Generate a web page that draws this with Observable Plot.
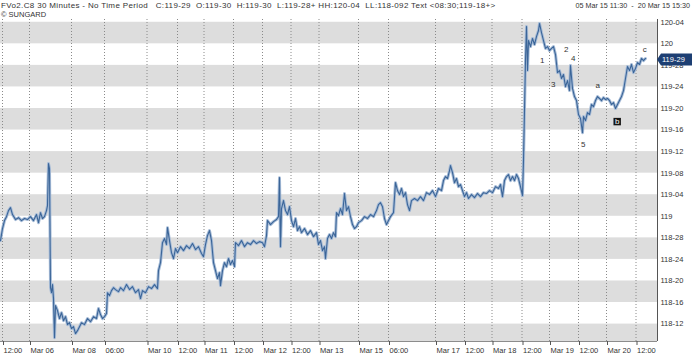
<!DOCTYPE html>
<html><head><meta charset="utf-8">
<script src="https://cdn.jsdelivr.net/npm/d3@7"></script>
<script src="https://cdn.jsdelivr.net/npm/@observablehq/plot@0.6"></script>
<style>
body{margin:0;background:#fff;}
#wrap{position:relative;width:692px;height:356px;font-family:"Liberation Sans",Arial,sans-serif;overflow:hidden;}
.hdr{position:absolute;font-size:7.5px;color:#333;white-space:pre;line-height:1;z-index:2;}
#chart{position:absolute;left:0;top:0;}
</style></head><body>
<div id="wrap">
<div id="chart"></div>
<div class="hdr" style="left:1px;top:2px;font-size:8px;letter-spacing:0.35px">FVo2.C8 30 Minutes - No Time Period   C:119-29  O:119-30  H:119-30  L:119-28+ HH:120-04  LL:118-092 Text &lt;08:30;119-18+&gt;</div>
<div class="hdr" style="right:2px;top:2px;font-size:7.2px">05 Mar 15 11:30  -  20 Mar 15 15:30</div>
<div class="hdr" style="left:1px;top:11px">© SUNGARD</div>
</div>
<script>
// time slot index of each sampled 30-minute bar
const t = [0,2,4,6,8,10,12,15,18,21,24,27,30,33,36,38,40,42,44,46,47,48,49,50,51,52,53,54,55,57,59,61,63,65,67,69,71,73,75,77,79,81,84,87,90,93,96,98,100,102,104,106,107,109,111,113,115,118,120,123,126,129,132,135,138,140,142,145,148,151,154,157,158,160,162,164,166,167,169,171,173,175,177,180,183,186,189,192,195,198,201,203,205,207,209,211,213,215,217,219,220,222,224,226,228,230,232,234,235,238,241,244,247,250,253,256,259,262,264,266,267,270,273,276,278,279,280,281,283,285,287,289,291,293,295,297,299,301,304,307,310,313,316,318,320,322,324,325,327,329,331,333,335,336,338,340,342,344,346,348,350,352,354,356,358,361,364,367,370,373,376,378,380,382,384,386,388,390,393,395,397,399,401,403,405,407,409,411,414,417,420,423,426,429,432,435,438,441,443,445,447,449,450,452,454,456,458,460,462,464,466,468,471,474,477,480,483,486,489,492,495,498,500,502,504,506,508,510,512,514,516,518,520,522,523,524,525,526,527,528,530,532,534,536,538,539,541,543,545,547,549,551,553,555,557,559,561,563,565,567,569,570,572,574,576,578,580,582,583,585,587,589,591,593,595,597,599,601,603,605,607,609,611,613,615,617,619,621,623,625,627,629,631,633,635,637,639,641,643,645];
// price (decimal, 32nds converted)
const price = [118.859,118.929,118.975,118.998,119.033,119.050,119.010,118.981,118.992,118.975,118.987,118.981,118.998,118.975,119.010,118.963,119.021,118.987,118.998,119.033,119.062,119.306,119.277,118.586,118.557,118.604,118.523,118.296,118.482,118.453,118.407,118.441,118.395,118.418,118.372,118.383,118.349,118.360,118.320,118.337,118.360,118.383,118.372,118.407,118.389,118.418,118.407,118.465,118.430,118.407,118.418,118.436,118.557,118.540,118.569,118.586,118.575,118.563,118.586,118.569,118.604,118.575,118.592,118.557,118.575,118.523,118.569,118.557,118.592,118.581,118.604,118.581,118.685,118.731,118.847,118.871,118.836,118.934,118.859,118.789,118.755,118.813,118.789,118.824,118.801,118.830,118.813,118.842,118.807,118.824,118.784,118.766,118.836,118.888,118.917,118.859,118.731,118.685,118.639,118.673,118.598,118.685,118.731,118.708,118.755,118.720,118.743,118.708,118.847,118.830,118.859,118.824,118.847,118.836,118.859,118.842,118.853,118.847,118.824,118.888,118.975,118.952,118.969,118.981,118.998,119.224,118.824,119.045,119.091,119.033,119.010,119.056,118.975,118.940,118.987,118.917,118.940,118.905,118.929,118.894,118.917,118.882,118.905,118.836,118.859,118.801,118.824,118.755,118.871,118.894,118.871,118.905,118.882,119.021,119.004,119.045,119.010,119.132,119.033,119.056,118.998,118.952,118.929,118.940,118.963,118.975,118.998,118.987,119.010,118.998,119.033,119.068,119.079,119.056,118.987,118.952,118.975,118.998,119.021,119.195,119.149,119.126,119.161,119.114,119.137,119.068,119.033,119.091,119.103,119.091,119.114,119.091,119.137,119.126,119.149,119.114,119.161,119.149,119.207,119.230,119.219,119.265,119.294,119.253,119.195,119.219,119.172,119.184,119.149,119.114,119.137,119.103,119.126,119.108,119.132,119.114,119.137,119.132,119.149,119.137,119.172,119.161,119.184,119.114,119.207,119.230,119.242,119.207,119.230,119.207,119.242,119.219,119.172,119.120,119.323,119.613,119.903,120.100,119.845,120.019,119.984,120.031,119.996,120.042,120.077,120.118,120.065,120.019,119.973,119.984,119.961,119.973,119.984,119.938,119.833,119.845,119.799,119.822,119.752,119.787,119.729,119.874,119.741,119.694,119.671,119.590,119.567,119.485,119.578,119.555,119.601,119.590,119.648,119.636,119.671,119.694,119.683,119.671,119.688,119.677,119.683,119.671,119.648,119.659,119.625,119.648,119.671,119.694,119.729,119.799,119.868,119.845,119.880,119.833,119.857,119.891,119.880,119.915,119.903,119.915];

const tDomain = [0, 657];
const yDomain = [118.274, 120.141];
const tickT = [2,29,71,104,146.5,177,203.5,233,262,290.5,318.5,358,388,435,464,491.5,521.5,549,578,606,635.5];
const tickLabels = ["12:00","Mar 06","Mar 08","06:00","Mar 10","12:00","Mar 11","12:00","Mar 12","12:00","Mar 13","Mar 15","06:00","Mar 17","12:00","Mar 18","12:00","Mar 19","12:00","Mar 20","12:00"];
const yTicks = [118.375,118.5,118.625,118.75,118.875,119,119.125,119.25,119.375,119.5,119.625,119.75,119.875,120,120.125];
const bandLow = [118.25,118.5,118.75,119,119.25,119.5,119.75,120];
const waveLabels = ["1","2","3","4","5","a","b","c"];
const waveT = [541.7,565.7,552.7,572.7,582.7,597.3,616.7,644.3];
const waveP = [119.903,119.965,119.764,119.913,119.416,119.756,119.549,119.965];
const lastPrice = 119.90625;

const fmt32 = v => {
  const h = Math.floor(v + 1e-9);
  const n = Math.round((v - h) * 32);
  return n === 0 ? String(h) : h + "-" + String(n).padStart(2, "0");
};
const labelMap = new Map(tickT.map((d, i) => [d, tickLabels[i]]));
const series = t.map((d, i) => ({t: d, p: price[i]}));
const waves = waveLabels.map((s, i) => ({s, t: waveT[i], p: waveP[i]}));
const boxed = waves.filter(d => d.s === "b");
const plain = waves.filter(d => d.s !== "b");

const chart = Plot.plot({
  width: 692, height: 356,
  marginTop: 19, marginBottom: 15, marginLeft: 0, marginRight: 35,
  style: {fontFamily: "'Liberation Sans', Arial, sans-serif", fontSize: "7.5px", color: "#333", background: "transparent"},
  x: {domain: tDomain, axis: null},
  y: {domain: yDomain, axis: null},
  marks: [
    Plot.rect(bandLow, {x1: () => tDomain[0], x2: () => tDomain[1], y1: d => d, y2: d => d + 0.125, fill: "#dddddd", clip: true}),
    Plot.ruleX(tickT, {stroke: "#8a8a8a", strokeDasharray: "1,2"}),
    Plot.line(series, {x: "t", y: "p", stroke: "#a7bcd7", strokeWidth: 3, strokeLinejoin: "round"}),
    Plot.line(series, {x: "t", y: "p", stroke: "#3b6598", strokeWidth: 1.1}),
    Plot.text(plain, {x: "t", y: "p", text: "s", fill: "#333", fontSize: 8}),
    Plot.dot(boxed, {x: "t", y: "p", symbol: "square", r: 4.2, fill: "#151515"}),
    Plot.text(boxed, {x: "t", y: "p", text: "s", fill: "#fff", fontSize: 8}),
    Plot.ruleY([yDomain[0]], {stroke: "#8c8c8c"}),
    Plot.ruleX([tDomain[1]], {stroke: "#555"}),
    Plot.axisX({ticks: tickT, tickFormat: d => labelMap.get(d), label: null, textAnchor: "start", dx: 1, tickSize: 4, tickPadding: 2, stroke: "#555", fill: "#333"}),
    Plot.axisY({anchor: "right", ticks: yTicks, tickFormat: fmt32, label: null, tickSize: 0, tickPadding: 3, textAnchor: "start", fill: "#333"})
  ]
});
document.getElementById("chart").appendChild(chart);

// last-price flag on the right axis, placed through the y scale
const ys = chart.scale("y").apply(lastPrice);
const xr = chart.scale("x").apply(tDomain[1]);
const svg = d3.select(chart);
svg.append("path")
  .attr("d", `M${xr},${ys} L${xr + 4},${ys - 6} L692,${ys - 6} L692,${ys + 6} L${xr + 4},${ys + 6} Z`)
  .attr("fill", "#1d3f73");
svg.append("text")
  .attr("x", xr + 5).attr("y", ys).attr("dy", "0.35em")
  .attr("text-anchor", "start")
  .attr("fill", "#fff").attr("font-size", "7.5px")
  .attr("font-family", "'Liberation Sans', Arial, sans-serif")
  .text(fmt32(lastPrice));
</script>
</body></html>
